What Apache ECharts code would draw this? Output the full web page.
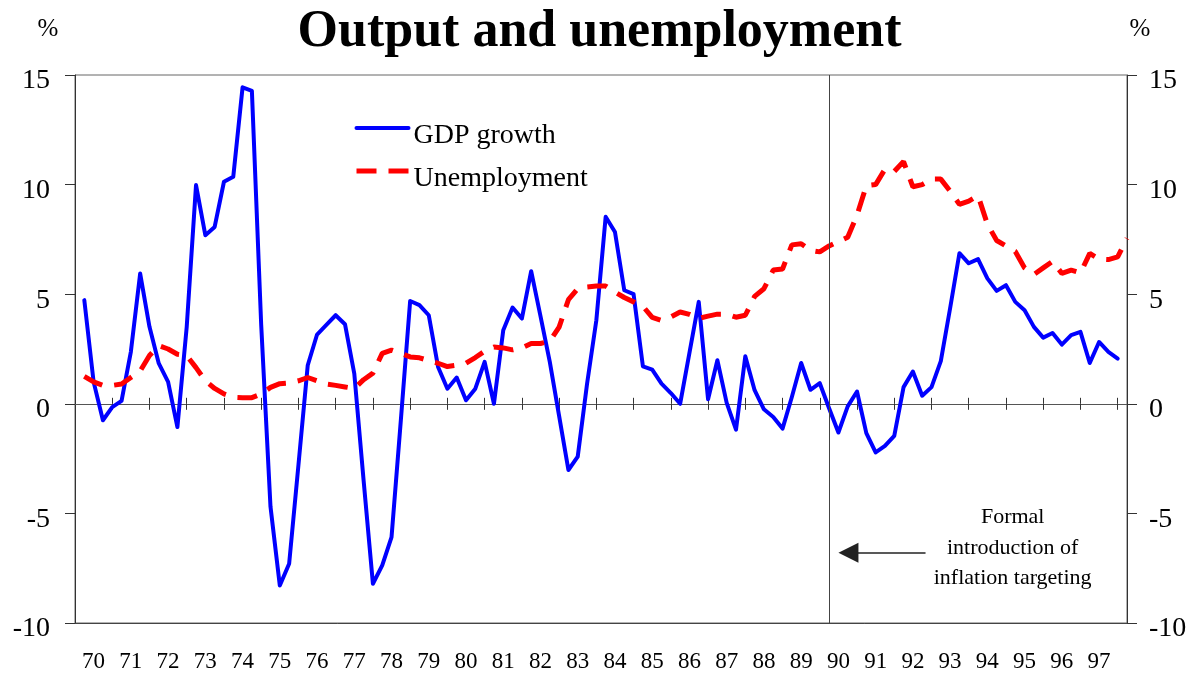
<!DOCTYPE html>
<html>
<head>
<meta charset="utf-8">
<script src="https://cdn.jsdelivr.net/npm/echarts@6/dist/echarts.min.js"></script>
<style>
  html, body { margin: 0; padding: 0; background: #fff; }
  #chart { width: 1199px; height: 675px; }
</style>
</head>
<body>
<div id="chart"></div>
<script>
// quarterly data, first observation 1970 Q2 (plotted at 1970.25)
const firstQuarter = 1970.25;
const yearLabels = ['70', '71', '72', '73', '74', '75', '76', '77', '78', '79',
  '80', '81', '82', '83', '84', '85', '86', '87', '88', '89',
  '90', '91', '92', '93', '94', '95', '96', '97'];

// GDP growth, % (1970 Q2 .. 1998 Q1)
const gdpGrowth = [
  4.73, 1.0, -0.75,
  -0.15, 0.13, 2.37, 5.94,
  3.51, 1.84, 1.0, -1.06,
  3.51, 9.98, 7.69, 8.07,
  10.13, 10.36, 14.44, 14.28,
  3.6, -4.7, -8.29, -7.3,
  -2.8, 1.76, 3.16, 3.6,
  4.04, 3.63, 1.38, -3.49,
  -8.21, -7.37, -6.08, -0.75,
  4.69, 4.5, 4.04, 1.68,
  0.69, 1.2, 0.16, 0.69,
  1.91, 0.0, 3.36, 4.39,
  3.89, 6.05, 4.0, 1.91,
  -0.55, -3.02, -2.41, 0.9,
  3.81, 8.53, 7.84, 5.18,
  5.0, 1.71, 1.56, 0.92,
  0.49, 0.0, 2.32, 4.65,
  0.21, 1.99, 0.04, -1.18,
  2.17, 0.62, -0.25, -0.6,
  -1.13, 0.31, 1.86, 0.64,
  0.94, -0.2, -1.31, -0.12,
  0.56, -1.34, -2.22, -1.92,
  -1.46, 0.76, 1.47, 0.37,
  0.76, 1.95, 4.36, 6.87,
  6.41, 6.6, 5.72, 5.15,
  5.41, 4.65, 4.27, 3.51,
  3.02, 3.23, 2.7, 3.13,
  3.28, 1.86, 2.82, 2.37,
  2.06
];

// unemployment rate, % (1970 Q2 .. 1998 Q2)
const unemployment = [
  1.25, 1.0, 0.84,
  0.84, 0.9, 1.2, 1.5,
  2.2, 2.65, 2.5, 2.26,
  2.2, 1.65, 1.05, 0.7,
  0.45, 0.3, 0.28, 0.28,
  0.45, 0.75, 0.92, 0.95,
  1.05, 1.2, 1.05, 0.9,
  0.84, 0.77, 0.7, 1.1,
  1.4, 2.3, 2.45, 2.3,
  2.14, 2.1, 1.97, 1.85,
  1.7, 1.76, 1.85, 2.11,
  2.4, 2.59, 2.55, 2.46,
  2.55, 2.75, 2.75, 2.85,
  3.5, 4.75, 5.25, 5.33,
  5.37, 5.37, 5.1, 4.85,
  4.65, 4.45, 3.94, 3.8,
  3.96, 4.19, 4.08, 3.9,
  4.0, 4.09, 4.09, 3.95,
  4.04, 4.9, 5.25, 6.1,
  6.15, 7.25, 7.3, 7.0,
  6.93, 7.2, 7.4, 7.6,
  8.6, 9.95, 10.0, 10.7,
  10.6, 11.05, 9.9, 10.0,
  10.25, 10.25, 9.7, 9.1,
  9.25, 9.5, 8.2, 7.45,
  7.2, 6.95, 6.2, 5.9,
  6.2, 6.5, 5.95, 6.1,
  5.97, 6.86, 6.6, 6.58,
  6.7, 7.55
];

const targetingDate = 1990.25; // formal introduction of inflation targeting

const FONT = '"Liberation Serif", "Times New Roman", serif';
const xMin = 1970;
const xMax = 1998.25;
const yearTicks = yearLabels.map((y, i) => xMin + 1 + i);
const yearMids = yearLabels.map((y, i) => xMin + 0.5 + i);

function toPoints(values) {
  return values.map((v, i) => [firstQuarter + i * 0.25, v]);
}

function zeroAxis(position) {
  return {
    type: 'value',
    min: xMin,
    max: xMax,
    position: position,
    axisLine: { show: true, onZero: true, onZeroAxisIndex: 0, lineStyle: { color: '#555', width: 1 } },
    axisTick: { show: true, customValues: yearTicks, length: 6, lineStyle: { color: '#333' } },
    axisLabel: { show: false },
    splitLine: { show: false }
  };
}

function valueAxis(position) {
  let left = position === 'left';
  return {
    type: 'value',
    min: -10,
    max: 15,
    interval: 5,
    position: position,
    name: '%',
    nameLocation: 'end',
    nameGap: 33,
    nameTextStyle: {
      fontFamily: FONT, fontSize: 25, color: '#000',
      padding: left ? [0, 54, 0, 0] : [0, 0, 0, 26]
    },
    axisLine: { show: true, onZero: false, lineStyle: { color: '#333' } },
    axisTick: { show: true, length: 10, lineStyle: { color: '#333' } },
    axisLabel: {
      margin: left ? 25 : 22,
      // labels sit a little below their ticks, as in the original
      formatter: v => '{s| }\n{v|' + v + '}',
      rich: {
        s: { fontSize: 8, lineHeight: 12 },
        v: { fontFamily: FONT, fontSize: 28, lineHeight: 28, color: '#000' }
      }
    },
    splitLine: { show: false }
  };
}

let option = {
  animation: false,
  backgroundColor: '#fff',
  title: {
    text: 'Output and unemployment',
    left: 'center',
    top: 2,
    textStyle: { fontFamily: FONT, fontSize: 52, fontWeight: 'bold', color: '#000' }
  },
  legend: {
    data: ['GDP growth', 'Unemployment'],
    orient: 'vertical',
    left: 354,
    top: 109,
    padding: 0,
    itemWidth: 52,
    itemHeight: 14,
    itemGap: 2,
    itemStyle: { opacity: 0 },
    lineStyle: { width: 'inherit' },
    formatter: name => '{s| }\n{t|' + name + '}',
    textStyle: {
      color: '#000',
      rich: {
        s: { fontSize: 10, lineHeight: 16 },
        t: { fontFamily: FONT, fontSize: 28, lineHeight: 28, color: '#000' }
      }
    }
  },
  grid: {
    left: 75,
    right: 72,
    top: 75,
    bottom: 52,
    show: true,
    borderColor: '#666',
    borderWidth: 1
  },
  xAxis: [
    {
      type: 'value',
      min: xMin,
      max: xMax,
      position: 'bottom',
      axisLine: { show: true, onZero: false, lineStyle: { color: '#444' } },
      axisTick: { show: false },
      axisLabel: {
        customValues: yearMids,
        formatter: v => yearLabels[Math.round(v - xMin - 0.5)],
        fontFamily: FONT,
        fontSize: 23,
        color: '#000',
        margin: 27
      },
      splitLine: { show: false }
    },
    zeroAxis('top'),
    zeroAxis('bottom')
  ],
  yAxis: [valueAxis('left'), valueAxis('right')],
  series: [
    {
      name: 'GDP growth',
      type: 'line',
      data: toPoints(gdpGrowth),
      symbol: 'none',
      lineStyle: { color: '#0000ff', width: 4, join: 'round', cap: 'round' },
      itemStyle: { color: '#0000ff' },
      markLine: {
        silent: true,
        symbol: ['none', 'none'],
        label: { show: false },
        lineStyle: { color: '#444', width: 1, type: 'solid' },
        data: [{ xAxis: targetingDate }]
      }
    },
    {
      name: 'Unemployment',
      type: 'line',
      data: toPoints(unemployment),
      symbol: 'none',
      lineStyle: { color: '#ff0000', width: 5, type: [20, 12] },
      itemStyle: { color: '#ff0000' },
      markLine: {
        silent: true,
        symbol: ['none', 'triangle'],
        symbolSize: 20,
        label: { show: false },
        lineStyle: { color: '#222', width: 1.5, type: 'solid' },
        data: [[{ coord: [1992.84, -6.8] }, { coord: [1990.77, -6.8] }]]
      },
      markPoint: {
        silent: true,
        symbol: 'circle',
        symbolSize: 1,
        itemStyle: { color: 'rgba(0,0,0,0)' },
        label: {
          show: true,
          position: 'inside',
          formatter: 'Formal\nintroduction of\ninflation targeting',
          fontFamily: FONT,
          fontSize: 22,
          lineHeight: 30.5,
          align: 'center',
          color: '#000'
        },
        data: [{ coord: [1995.18, -6.58] }]
      }
    }
  ]
};

let chart = echarts.init(document.getElementById('chart'));
chart.setOption(option);
</script>
</body>
</html>
